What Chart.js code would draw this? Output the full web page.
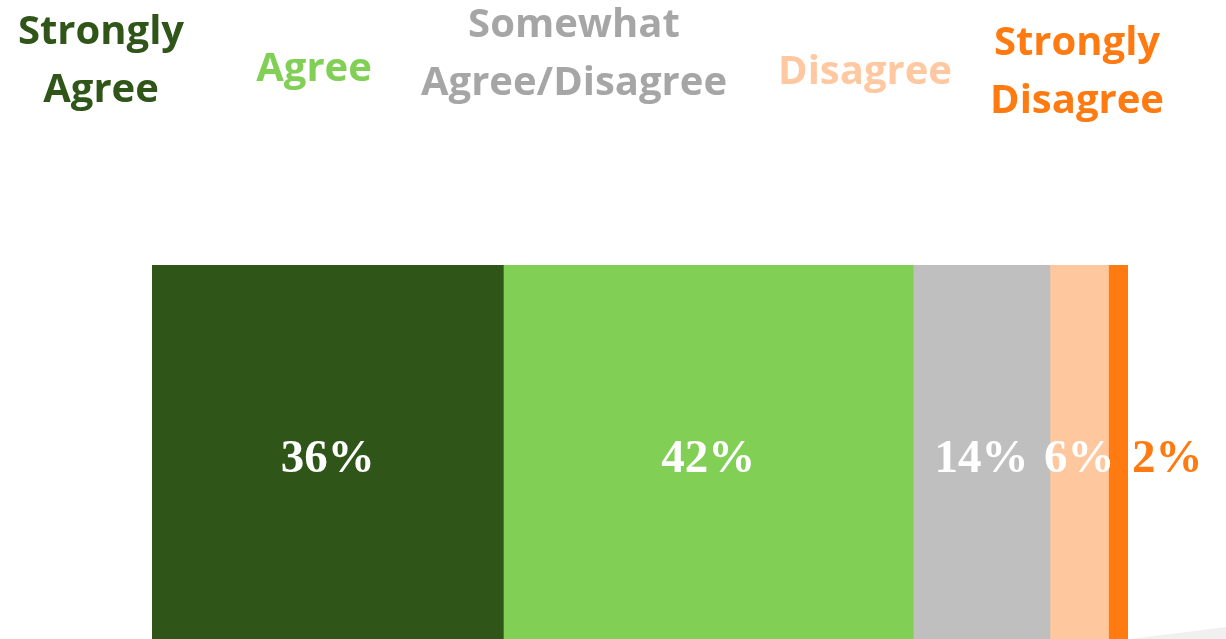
<!DOCTYPE html>
<html>
<head>
<meta charset="utf-8">
<script src="https://cdn.jsdelivr.net/npm/chart.js@4.4.1/dist/chart.umd.min.js"></script>
<style>
  html, body { margin: 0; padding: 0; background: #fff; }
  #wrap { position: relative; width: 1226px; height: 639px; overflow: hidden; }
  #chart { display: block; }
</style>
</head>
<body>
<div id="wrap">
  <canvas id="chart" width="1226" height="660"></canvas>
</div>
<script>
// categories and values
const categories = ['Strongly Agree', 'Agree', 'Somewhat Agree/Disagree', 'Disagree', 'Strongly Disagree']
const percentValues = [36, 42, 14, 6, 2]
const valueLabels = ['36%', '42%', '14%', '6%', '2%']

// colours
const barColors = ['#2F5618', '#82CF56', '#BFBFBF', '#FFC79E', '#FF7A10']
const headerColors = ['#2F5618', '#82CF56', '#A6A6A6', '#FFC8A0', '#FF7A10']
const labelColors = ['#FFFFFF', '#FFFFFF', '#FFFFFF', '#FFFFFF', '#FF7A10']

// header layout: centre x and baseline of each line
const headerLines = [
  { lines: ['Strongly', 'Agree'], x: 101, y: [44, 102] },
  { lines: ['Agree'], x: 314, y: [81] },
  { lines: ['Somewhat', 'Agree/Disagree'], x: 574, y: [37, 95] },
  { lines: ['Disagree'], x: 865, y: [84] },
  { lines: ['Strongly', 'Disagree'], x: 1077, y: [55, 113] }
]

const headerPlugin = {
  id: 'headers',
  afterDraw(chart) {
    const ctx = chart.ctx
    ctx.save()
    ctx.font = 'bold 40px "Open Sans"'
    ctx.textAlign = 'center'
    ctx.textBaseline = 'alphabetic'
    headerLines.forEach((h, i) => {
      ctx.fillStyle = headerColors[i]
      h.lines.forEach((t, j) => ctx.fillText(t, h.x, h.y[j]))
    })

    // faint shadow bottom right
    ctx.fillStyle = '#F0F0F0'
    ctx.beginPath()
    ctx.moveTo(1130, 639)
    ctx.lineTo(1226, 627)
    ctx.lineTo(1226, 640)
    ctx.closePath()
    ctx.fill()
    ctx.restore()
  }
}

const valuePlugin = {
  id: 'values',
  afterDatasetsDraw(chart) {
    const ctx = chart.ctx
    ctx.save()
    ctx.font = 'bold 47px "Liberation Serif"'
    ctx.textBaseline = 'alphabetic'
    chart.data.datasets.forEach((ds, i) => {
      const bar = chart.getDatasetMeta(i).data[0]
      ctx.fillStyle = labelColors[i]
      if (i === chart.data.datasets.length - 1) {
        ctx.textAlign = 'left'
        ctx.fillText(valueLabels[i], bar.x + 4, 472)
      } else {
        ctx.textAlign = 'center'
        ctx.fillText(valueLabels[i], (bar.base + bar.x) / 2, 472)
      }
    })
    ctx.restore()
  }
}

new Chart(document.getElementById('chart'), {
  type: 'bar',
  data: {
    labels: [''],
    datasets: categories.map((c, i) => ({
      label: c,
      data: [percentValues[i]],
      backgroundColor: barColors[i],
      borderWidth: 0,
      categoryPercentage: 1,
      barPercentage: 1
    }))
  },
  options: {
    indexAxis: 'y',
    responsive: false,
    animation: false,
    layout: { padding: { left: 152, right: 98, top: 265, bottom: 11 } },
    scales: {
      x: { stacked: true, min: 0, max: 100, display: false },
      y: { stacked: true, display: false }
    },
    plugins: {
      legend: { display: false },
      tooltip: { enabled: false }
    }
  },
  plugins: [headerPlugin, valuePlugin]
})
</script>
</body>
</html>
